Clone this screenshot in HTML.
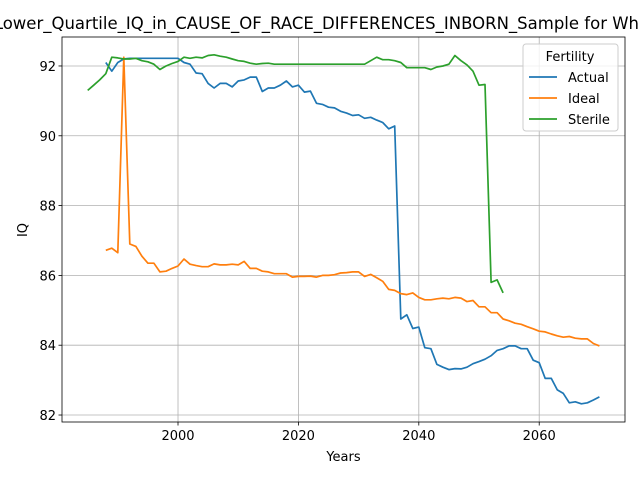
<!DOCTYPE html>
<html><head><meta charset="utf-8"><style>
body{margin:0;background:#fff;}
svg{display:block;font-family:"DejaVu Sans","Liberation Sans",sans-serif;}
</style></head><body>
<svg id="chart" width="640" height="480" viewBox="0 0 640 480">
<rect width="640" height="480" fill="#fff"/>
<g id="grid"></g>
<g id="lines"></g>
<g id="axes"></g>
<text x="327" y="29" text-anchor="middle" font-size="16.5" fill="#000">Lower_Quartile_IQ_in_CAUSE_OF_RACE_DIFFERENCES_INBORN_Sample for White</text>
<text x="343.5" y="461" text-anchor="middle" font-size="13">Years</text>
<text x="27" y="230" text-anchor="middle" font-size="13" transform="rotate(-90 27 230)">IQ</text>
<g>
<rect x="523" y="44" width="95" height="87" rx="3" fill="#fff" fill-opacity="0.8" stroke="#ccc"/>
<text x="570" y="61" text-anchor="middle" font-size="13">Fertility</text>
<g><line x1="529" y1="77" x2="557" y2="77" stroke="#1f77b4" stroke-width="1.7"/><text x="568" y="82" font-size="13">Actual</text></g>
<g><line x1="529" y1="98" x2="557" y2="98" stroke="#ff7f0e" stroke-width="1.7"/><text x="568" y="103" font-size="13">Ideal</text></g>
<g><line x1="529" y1="119" x2="557" y2="119" stroke="#2ca02c" stroke-width="1.7"/><text x="568" y="124" font-size="13">Sterile</text></g>
</g>
</svg>
<script>
const xTicks=[2000,2020,2040,2060];
const yTicks=[82,84,86,88,90,92];
const actualYears=[1988,1989,1990,1991,1992,1993,1994,1995,1996,1997,1998,1999,2000,2001,2002,2003,2004,2005,2006,2007,2008,2009,2010,2011,2012,2013,2014,2015,2016,2017,2018,2019,2020,2021,2022,2023,2024,2025,2026,2027,2028,2029,2030,2031,2032,2033,2034,2035,2036,2037,2038,2039,2040,2041,2042,2043,2044,2045,2046,2047,2048,2049,2050,2051,2052,2053,2054,2055,2056,2057,2058,2059,2060,2061,2062,2063,2064,2065,2066,2067,2068,2069,2070];
const actualValues=[92.1,91.85,92.1,92.2,92.22,92.22,92.22,92.22,92.22,92.22,92.22,92.22,92.22,92.1,92.05,91.8,91.78,91.5,91.37,91.5,91.5,91.4,91.57,91.6,91.68,91.68,91.27,91.37,91.37,91.45,91.57,91.4,91.45,91.25,91.28,90.93,90.9,90.82,90.8,90.7,90.65,90.58,90.6,90.5,90.53,90.45,90.38,90.2,90.28,84.75,84.87,84.48,84.52,83.93,83.9,83.45,83.37,83.3,83.33,83.32,83.37,83.47,83.53,83.6,83.7,83.85,83.9,83.98,83.98,83.9,83.9,83.57,83.5,83.05,83.05,82.72,82.62,82.35,82.38,82.32,82.35,82.43,82.52];
const idealYears=actualYears;
const idealValues=[86.72,86.78,86.65,92.25,86.9,86.83,86.55,86.35,86.35,86.1,86.12,86.2,86.27,86.47,86.32,86.28,86.25,86.25,86.33,86.3,86.3,86.32,86.3,86.4,86.2,86.2,86.12,86.1,86.05,86.05,86.05,85.95,85.97,85.97,85.98,85.95,86.0,86.0,86.02,86.07,86.08,86.1,86.1,85.97,86.03,85.93,85.83,85.6,85.57,85.48,85.45,85.5,85.37,85.3,85.3,85.33,85.35,85.33,85.37,85.35,85.25,85.28,85.1,85.1,84.93,84.93,84.75,84.7,84.63,84.6,84.53,84.47,84.4,84.38,84.32,84.27,84.23,84.25,84.2,84.18,84.18,84.05,83.98];
const sterileYears=[1985,1986,1987,1988,1989,1990,1991,1992,1993,1994,1995,1996,1997,1998,1999,2000,2001,2002,2003,2004,2005,2006,2007,2008,2009,2010,2011,2012,2013,2014,2015,2016,2017,2018,2019,2020,2021,2022,2023,2024,2025,2026,2027,2028,2029,2030,2031,2032,2033,2034,2035,2036,2037,2038,2039,2040,2041,2042,2043,2044,2045,2046,2047,2048,2049,2050,2051,2052,2053,2054];
const sterileValues=[91.3,91.45,91.6,91.78,92.25,92.23,92.2,92.2,92.22,92.15,92.12,92.05,91.9,92.0,92.07,92.13,92.25,92.22,92.25,92.23,92.3,92.32,92.28,92.25,92.2,92.15,92.13,92.08,92.05,92.07,92.08,92.05,92.05,92.05,92.05,92.05,92.05,92.05,92.05,92.05,92.05,92.05,92.05,92.05,92.05,92.05,92.05,92.15,92.25,92.18,92.18,92.15,92.1,91.95,91.95,91.95,91.95,91.9,91.97,92.0,92.05,92.3,92.15,92.03,91.85,91.45,91.47,85.8,85.87,85.5];

const NS='http://www.w3.org/2000/svg';
const L=62,R=625,T=37,B=422;
const xMin=1980.73,xMax=2074.25,yMin=81.8,yMax=92.83;
const sx=v=>L+(v-xMin)/(xMax-xMin)*(R-L);
const sy=v=>B-(v-yMin)/(yMax-yMin)*(B-T);
function mk(tag,attrs,parent){const e=document.createElementNS(NS,tag);for(const k in attrs)e.setAttribute(k,attrs[k]);parent.appendChild(e);return e;}
const grid=document.getElementById('grid'),axes=document.getElementById('axes'),lines=document.getElementById('lines');
xTicks.forEach(t=>{
  const g=mk('line',{x1:sx(t),x2:sx(t),y1:T,y2:B,stroke:'#b0b0b0','stroke-width':0.8},grid);
  
  
  mk('line',{x1:sx(t),x2:sx(t),y1:B,y2:B+3.5,stroke:'#000','stroke-width':0.8},axes);
  const tx=mk('text',{x:sx(t),y:B+18,'text-anchor':'middle','font-size':13},axes);
  tx.textContent=t;
  
  
});
yTicks.forEach(t=>{
  const g=mk('line',{x1:L,x2:R,y1:sy(t),y2:sy(t),stroke:'#b0b0b0','stroke-width':0.8},grid);
  
  
  mk('line',{x1:L-3.5,x2:L,y1:sy(t),y2:sy(t),stroke:'#000','stroke-width':0.8},axes);
  const tx=mk('text',{x:L-6,y:sy(t)+5,'text-anchor':'end','font-size':13},axes);
  tx.textContent=t;
  
  
});
const frame=mk('rect',{x:L,y:T,width:R-L,height:B-T,fill:'none',stroke:'#000','stroke-width':0.8},axes);


function series(xs,ys,color,name){
  const d=xs.map((x,i)=>(i?'L':'M')+sx(x).toFixed(1)+','+sy(ys[i]).toFixed(1)).join('');
  const p=mk('path',{d:d,fill:'none',stroke:color,'stroke-width':1.7,'stroke-linejoin':'round'},lines);
  
  
}
series(actualYears,actualValues,'#1f77b4','actual-line');
series(idealYears,idealValues,'#ff7f0e','ideal-line');
series(sterileYears,sterileValues,'#2ca02c','sterile-line');
</script>
</body></html>
